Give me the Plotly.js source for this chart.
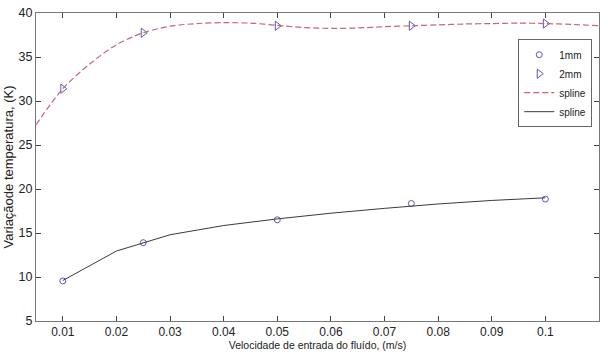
<!DOCTYPE html>
<html>
<head>
<meta charset="utf-8">
<script src="https://cdn.plot.ly/plotly-3.0.1.min.js"></script>
<style>html,body{margin:0;padding:0;background:#fff;}#chart{width:608px;height:356px;}</style>
</head>
<body>
<div id="chart"></div>
<script>
// measured points
const vel = [0.01, 0.025, 0.05, 0.075, 0.1];
const dT1mm = [9.55, 13.9, 16.5, 18.35, 18.85];
const dT2mm = [31.4, 37.75, 38.55, 38.55, 38.8];

// spline curve (2mm)
const splineX2 = [0.005, 0.01, 0.015, 0.02, 0.025, 0.03, 0.035, 0.04, 0.045, 0.05, 0.055, 0.06, 0.065, 0.07, 0.075, 0.08, 0.085, 0.09, 0.095, 0.1, 0.105, 0.11];
const splineY2 = [27.3, 31.4, 34.2, 36.4, 37.75, 38.5, 38.8, 38.9, 38.85, 38.6, 38.35, 38.25, 38.3, 38.45, 38.55, 38.65, 38.75, 38.8, 38.85, 38.8, 38.7, 38.55];

// spline curve (1mm)
const splineX1 = [0.01, 0.02, 0.03, 0.04, 0.05, 0.06, 0.07, 0.08, 0.09, 0.1];
const splineY1 = [9.6, 12.95, 14.8, 15.85, 16.6, 17.25, 17.8, 18.3, 18.7, 19.0];

const xTicks = [0.01, 0.02, 0.03, 0.04, 0.05, 0.06, 0.07, 0.08, 0.09, 0.1, 0.11];
const xTickText = ['0.01','0.02','0.03','0.04','0.05','0.06','0.07','0.08','0.09','0.1','0.11'];
const yTicks = [5, 10, 15, 20, 25, 30, 35, 40];

const markerColor = '#5a5ab4';
const traces = [
  {x: vel, y: dT1mm, name: '1mm', mode: 'markers', type: 'scatter',
   marker: {symbol: 'circle-open', size: 6, color: markerColor, line: {width: 1, color: markerColor}}},
  {x: vel, y: dT2mm, name: '2mm', mode: 'markers', type: 'scatter',
   marker: {symbol: 'triangle-right-open', size: 8, color: markerColor, line: {width: 1, color: markerColor}}},
  {x: splineX2, y: splineY2, name: 'spline', mode: 'lines', type: 'scatter',
   line: {color: '#cc6476', width: 1.2, dash: '6px,3px', shape: 'spline', smoothing: 0.8}},
  {x: splineX1, y: splineY1, name: 'spline', mode: 'lines', type: 'scatter',
   line: {color: '#3a3a3a', width: 1}}
];

const fontFam = 'Liberation Sans, Arial, sans-serif';
const layout = {
  width: 608, height: 356,
  margin: {l: 36, r: 9, t: 13, b: 35},
  paper_bgcolor: '#fff', plot_bgcolor: '#fff',
  showlegend: true,
  font: {family: fontFam, size: 12, color: '#222'},
  xaxis: {
    range: [0.005, 0.11], tickvals: xTicks, ticktext: xTickText,
    ticks: 'inside', ticklen: 5, tickcolor: '#444', mirror: 'ticks',
    showline: true, linecolor: '#777', linewidth: 1, showgrid: false, zeroline: false,
    tickfont: {family: fontFam, size: 12, color: '#222'},
    title: {text: 'Velocidade de entrada do fluído, (m/s)', font: {family: fontFam, size: 10.5, color: '#222'}, standoff: 1}
  },
  yaxis: {
    range: [5, 40], tickvals: yTicks,
    ticks: 'inside', ticklen: 5, tickcolor: '#444', mirror: 'ticks',
    showline: true, linecolor: '#777', linewidth: 1, showgrid: false, zeroline: false,
    tickfont: {family: fontFam, size: 12.5, color: '#222'},
    title: {text: 'Variaçãode temperatura, (K)', font: {family: fontFam, size: 13, color: '#222'}, standoff: 2}
  },
  legend: {
    x: 0.988, y: 0.915, xanchor: 'right', yanchor: 'top',
    bgcolor: '#fff', bordercolor: '#666', borderwidth: 1,
    font: {family: fontFam, size: 10, color: '#222'},
    itemwidth: 30, tracegroupgap: 0
  }
};

Plotly.newPlot('chart', traces, layout, {displayModeBar: false, staticPlot: true});
</script>
</body>
</html>
